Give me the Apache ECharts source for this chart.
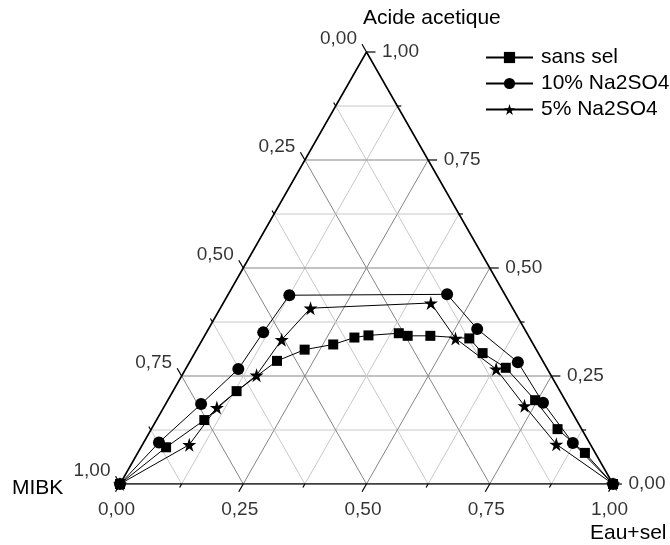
<!DOCTYPE html>
<html>
<head>
<meta charset="utf-8">
<script src="https://cdn.jsdelivr.net/npm/echarts@6/dist/echarts.min.js"></script>
<style>
    html, body { margin: 0; padding: 0; background: #fff; }
    #chart { width: 670px; height: 545px; }
</style>
</head>
<body>
<div id="chart"></div>
<script>
// compositions: fraction Eau+sel and fraction Acide acetique (MIBK = rest)
const sansSelEau = [0, 0.051, 0.097, 0.129, 0.176, 0.219, 0.271, 0.306, 0.332, 0.391, 0.412, 0.458, 0.540, 0.584, 0.648, 0.745, 0.824, 0.907, 1]
const sansSelAcide = [0, 0.085, 0.148, 0.215, 0.285, 0.311, 0.323, 0.339, 0.344, 0.349, 0.343, 0.343, 0.337, 0.303, 0.269, 0.194, 0.127, 0.072, 0]
const na10Eau = [0, 0.031, 0.072, 0.107, 0.115, 0.125, 0.444, 0.545, 0.666, 0.764, 0.871, 1]
const na10Acide = [0, 0.096, 0.185, 0.266, 0.351, 0.437, 0.439, 0.359, 0.282, 0.188, 0.095, 0]
const na5Eau = [0, 0.095, 0.108, 0.151, 0.161, 0.183, 0.421, 0.512, 0.630, 0.730, 0.839, 1]
const na5Acide = [0, 0.091, 0.177, 0.252, 0.334, 0.407, 0.419, 0.337, 0.266, 0.181, 0.092, 0]

const seriesNames = ['sans sel', '10% Na2SO4', '5% Na2SO4']
const tickValues = [0, 0.25, 0.5, 0.75, 1]
const tickLabels = ['0,00', '0,25', '0,50', '0,75', '1,00']
const minorValues = [0.125, 0.375, 0.625, 0.875]
const gridValues = [0.125, 0.25, 0.375, 0.5, 0.625, 0.75, 0.875]

const FONT = '"Liberation Sans", Arial, sans-serif'
const STAR = 'path://M50,0 L61,35 L98,35 L68,57 L79,91 L50,70 L21,91 L32,57 L2,35 L39,35 Z'

// ternary (eau, acide) -> position inside the triangle
function toXY (eau, acide) {
    return [eau + acide / 2, acide]
}
// points on each edge for an axis value
const edgePoint = {
    left: v => toXY(0, 1 - v), // MIBK
    bottom: v => toXY(v, 0), // Eau+sel
    right: v => toXY(1 - v, v) // Acide acetique
}

// grid lines: constant acide, constant eau, constant MIBK
const gridLines = []
gridValues.forEach(t => {
    const major = Math.abs(t * 4 - Math.round(t * 4)) < 1e-9 ? 1 : 0
    gridLines.push([...toXY(0, t), ...toXY(1 - t, t), major])
    gridLines.push([...toXY(t, 0), ...toXY(t, 1 - t), major])
    gridLines.push([...toXY(1 - t, 0), ...toXY(0, 1 - t), major])
})

// ticks: [x, y, side, major]
const sides = ['left', 'bottom', 'right']
const ticks = []
sides.forEach((side, s) => {
    tickValues.forEach(v => ticks.push([...edgePoint[side](v), s, 1]))
    minorValues.forEach(v => ticks.push([...edgePoint[side](v), s, 0]))
})

function labelData (side) {
    return tickValues.map((v, i) => [...edgePoint[side](v), tickLabels[i]])
}

function labelSeries (side, position, align) {
    return {
        type: 'scatter',
        silent: true,
        symbolSize: 1,
        itemStyle: { color: 'rgba(0,0,0,0)' },
        data: labelData(side),
        label: {
            show: true,
            formatter: p => p.data[2],
            position: position,
            align: align,
            verticalAlign: 'middle',
            color: '#000',
            fontSize: 19,
            fontFamily: FONT
        },
        z: 5
    }
}

function dataSeries (name, eau, acide, symbol, size) {
    return {
        name: name,
        type: 'line',
        data: eau.map((w, i) => toXY(w, acide[i])),
        symbol: symbol,
        symbolSize: size,
        showSymbol: true,
        lineStyle: { color: '#000', width: 1 },
        itemStyle: { color: '#000' },
        z: 10
    }
}

let myChart = echarts.init(document.getElementById('chart'))
myChart.setOption({
    animation: false,
    grid: { left: 120, top: 52, width: 493, height: 432 },
    xAxis: { type: 'value', min: 0, max: 1, show: false },
    yAxis: { type: 'value', min: 0, max: 1, show: false },
    legend: {
        data: seriesNames,
        orient: 'vertical',
        left: 485,
        top: 47,
        padding: 0,
        itemWidth: 47,
        itemHeight: 14,
        itemGap: 5,
        textStyle: { color: '#000', fontSize: 21, fontFamily: FONT, padding: [0, 0, 0, 3] }
    },
    graphic: [
        { type: 'text', left: 12, top: 478, style: { text: 'MIBK', fill: '#000', font: '21px ' + FONT } },
        { type: 'text', left: 590, top: 523, style: { text: 'Eau+sel', fill: '#000', font: '21px ' + FONT } },
        { type: 'text', left: 363, top: 8, style: { text: 'Acide acetique', fill: '#000', font: '21px ' + FONT } }
    ],
    series: [
        {
            // grid lines
            type: 'custom',
            silent: true,
            data: gridLines,
            renderItem: (params, api) => {
                const a = api.coord([api.value(0), api.value(1)])
                const b = api.coord([api.value(2), api.value(3)])
                return {
                    type: 'line',
                    shape: { x1: a[0], y1: a[1], x2: b[0], y2: b[1] },
                    style: { stroke: api.value(4) ? '#858585' : '#c8c8c8', lineWidth: 1 }
                }
            },
            z: 1
        },
        {
            // triangle frame
            type: 'line',
            silent: true,
            data: [toXY(0, 0), toXY(1, 0), toXY(0, 1), toXY(0, 0)],
            showSymbol: false,
            symbol: 'none',
            lineStyle: { color: '#000', width: 1.6 },
            z: 3
        },
        {
            // tick marks, pointing outward along the grid direction
            type: 'custom',
            silent: true,
            data: ticks,
            renderItem: (params, api) => {
                const bl = api.coord([0, 0])
                const br = api.coord([1, 0])
                const top = api.coord([0.5, 1])
                const dirs = [
                    [top[0] - br[0], top[1] - br[1]],
                    [bl[0] - top[0], bl[1] - top[1]],
                    [br[0] - bl[0], br[1] - bl[1]]
                ]
                const d = dirs[api.value(2)]
                const n = Math.hypot(d[0], d[1])
                const len = api.value(3) ? 9 : 4
                const p = api.coord([api.value(0), api.value(1)])
                return {
                    type: 'line',
                    shape: { x1: p[0], y1: p[1], x2: p[0] + d[0] / n * len, y2: p[1] + d[1] / n * len },
                    style: { stroke: '#000', lineWidth: 1.2 }
                }
            },
            z: 3
        },
        labelSeries('left', [-9, -13], 'right'),
        labelSeries('right', [16, 0], 'left'),
        labelSeries('bottom', [-3, 26], 'center'),
        dataSeries(seriesNames[0], sansSelEau, sansSelAcide, 'rect', 10),
        dataSeries(seriesNames[1], na10Eau, na10Acide, 'circle', 12),
        dataSeries(seriesNames[2], na5Eau, na5Acide, STAR, 14)
    ]
})
</script>
</body>
</html>
